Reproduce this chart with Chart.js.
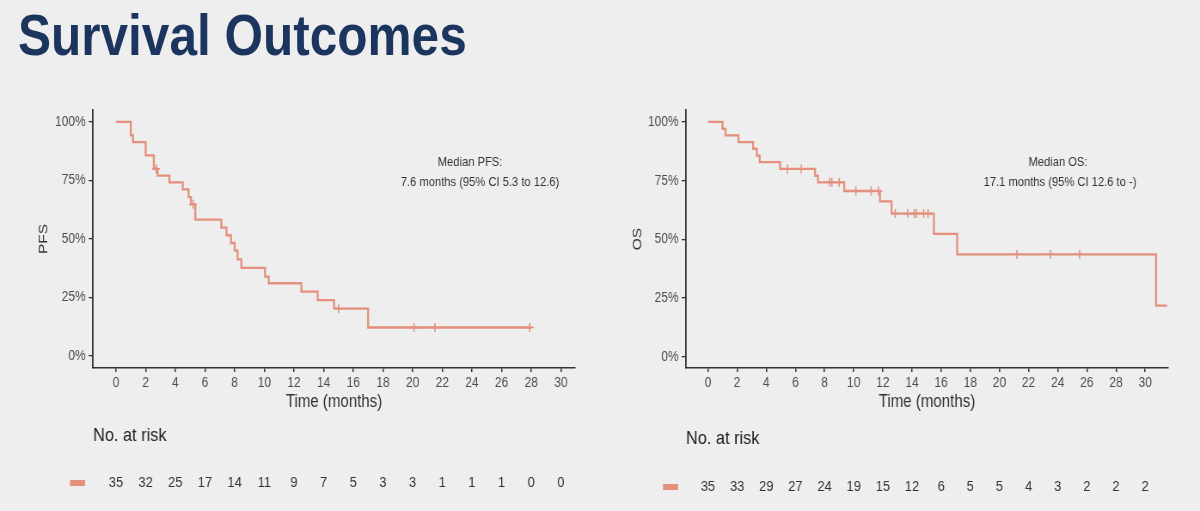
<!DOCTYPE html>
<html><head><meta charset="utf-8">
<script src="https://cdn.jsdelivr.net/npm/chart.js@4.4.0/dist/chart.umd.min.js"></script>
<style>
html,body{margin:0;padding:0;background:#eeeeee;width:1200px;height:511px;overflow:hidden;}
#title{position:absolute;left:18px;top:6px;font-weight:bold;font-size:57.6px;font-family:'Liberation Sans',Arial,sans-serif;line-height:58px;color:#1c355e;white-space:nowrap;transform:scaleX(0.86);transform-origin:0 0;}
canvas{position:absolute;}
</style></head><body>
<div id="title">Survival Outcomes</div>
<canvas id="pfs" width="698" height="421" style="left:0;top:90px;width:600px;height:421px"></canvas>
<canvas id="os" width="698" height="421" style="left:600px;top:90px;width:600px;height:421px"></canvas>
<script>
// ---- data ----
const timeTicks = [0, 2, 4, 6, 8, 10, 12, 14, 16, 18, 20, 22, 24, 26, 28, 30];
const pctTicks = [0, 25, 50, 75, 100];

const pfsTime = [0, 1.0, 1.15, 2.0, 2.55, 2.8, 3.6, 4.5, 4.9, 5.05, 5.35, 7.1, 7.45, 7.75, 8.0, 8.2, 8.45, 10.05, 10.3, 12.5, 13.6, 14.7, 17.0, 28.0];
const pfsSurv = [100, 94.3, 91.4, 85.7, 80.0, 77.1, 74.2, 71.2, 67.9, 64.8, 58.3, 54.9, 51.6, 48.3, 45.0, 41.3, 37.7, 33.9, 31.1, 27.5, 23.9, 20.3, 12.2, 12.2];
const pfsCensorTime = [2.7, 5.2, 15.0, 20.1, 21.5, 27.9];
const pfsCensorSurv = [80.0, 64.8, 20.3, 12.2, 12.2, 12.2];
const pfsAtRisk = [35, 32, 25, 17, 14, 11, 9, 7, 5, 3, 3, 1, 1, 1, 0, 0];
const pfsNote = ['Median PFS:', '7.6 months (95% CI 5.3 to 12.6)'];

const osTime = [0, 1.0, 1.2, 2.1, 3.1, 3.35, 3.55, 4.95, 7.35, 7.55, 9.35, 11.8, 12.6, 15.5, 17.1, 30.75, 31.5];
const osSurv = [100, 97.1, 94.3, 91.4, 88.6, 85.7, 82.9, 80.0, 77.1, 74.3, 70.6, 66.2, 61.0, 52.3, 43.6, 21.8, 21.8];
const osCensorTime = [5.45, 6.4, 8.35, 8.5, 9.0, 10.15, 11.2, 11.7, 12.85, 13.7, 14.15, 14.3, 14.8, 15.1, 21.2, 23.5, 25.5];
const osCensorSurv = [80.0, 80.0, 74.3, 74.3, 74.3, 70.6, 70.6, 70.6, 61.0, 61.0, 61.0, 61.0, 61.0, 61.0, 43.6, 43.6, 43.6];
const osAtRisk = [35, 33, 29, 27, 24, 19, 15, 12, 6, 5, 5, 4, 3, 2, 2, 2];
const osNote = ['Median OS:', '17.1 months (95% CI 12.6 to -)'];

// ---- styling ----
const FONT = "'Liberation Sans',Arial,sans-serif";
const CURVE = '#e3907c';
const AXIS = '#333333';

function riskPlugin(p) {
  return {
    id: 'risk',
    afterDraw(chart) {
      const {ctx, chartArea, scales: {x}} = chart;
      ctx.save();
      ctx.fillStyle = '#333333';
      ctx.textAlign = 'center';
      ctx.textBaseline = 'middle';
      ctx.font = '13px ' + FONT;
      ctx.fillText(p.note[0], p.n1x, p.n1y);
      ctx.fillText(p.note[1], p.n2x, p.n2y);
      ctx.textAlign = 'left';
      ctx.fillStyle = '#222222';
      ctx.font = '19px ' + FONT;
      ctx.fillText('No. at risk', chartArea.left, p.rtY);
      ctx.textAlign = 'center';
      ctx.fillStyle = '#333333';
      ctx.font = '15px ' + FONT;
      p.risk.forEach((n, i) => ctx.fillText(String(n), x.getPixelForValue(timeTicks[i]), p.rY));
      ctx.fillStyle = CURVE;
      ctx.fillRect(p.swX, p.rY - 3, 17.5, 6);
      ctx.restore();
    }
  };
}

function makeChart(id, p) {
  return new Chart(document.getElementById(id), {
    type: 'scatter',
    data: {
      datasets: [
        {
          data: p.time.map((t, i) => ({x: t, y: p.surv[i]})),
          showLine: true, stepped: true, borderColor: CURVE, borderWidth: 2.3,
          pointRadius: 0, fill: false
        },
        {
          data: p.cTime.map((t, i) => ({x: t, y: p.cSurv[i]})),
          showLine: false, pointStyle: 'cross', pointRadius: 4.5,
          borderColor: '#d98a78', borderWidth: 1.4, backgroundColor: '#d98a78'
        }
      ]
    },
    options: {
      responsive: false, animation: false, devicePixelRatio: 1,
      layout: {padding: {left: p.padL, top: 20, right: p.padR, bottom: 98}},
      plugins: {legend: {display: false}, tooltip: {enabled: false}},
      scales: {
        x: {
          type: 'linear', min: p.xMin, max: p.xMax,
          afterBuildTicks: s => { s.ticks = timeTicks.map(v => ({value: v})); },
          afterFit: s => { s.height = 45; },
          grid: {drawOnChartArea: false, drawTicks: true, tickLength: 4, color: AXIS, lineWidth: 1.5},
          border: {display: true, color: AXIS, width: 1.5},
          ticks: {color: '#4d4d4d', font: {family: FONT, size: 14}, padding: 3, maxRotation: 0, autoSkip: false},
          title: {display: true, text: 'Time (months)', color: '#333333', font: {family: FONT, size: 17.5}, padding: {top: 0, bottom: 0}}
        },
        y: {
          type: 'linear', min: p.yMin, max: p.yMax,
          afterBuildTicks: s => { s.ticks = pctTicks.map(v => ({value: v})); },
          afterFit: s => { s.width = p.yW; },
          grid: {drawOnChartArea: false, drawTicks: true, tickLength: 5, color: AXIS, lineWidth: 1.3},
          border: {display: true, color: AXIS, width: 1.8},
          ticks: {color: '#4d4d4d', font: {family: FONT, size: 14}, padding: 3.5, callback: v => v + '%'},
          title: {display: true, text: p.yTitle, color: '#333333', font: {family: FONT, size: 15.5}, padding: {top: 0, bottom: 0}}
        }
      }
    },
    plugins: [riskPlugin(p)]
  });
}

makeChart('pfs', {
  time: pfsTime, surv: pfsSurv, cTime: pfsCensorTime, cSurv: pfsCensorSurv,
  risk: pfsAtRisk, note: pfsNote, yTitle: 'PFS',
  padL: 41, yW: 67.2, padR: 29.1,
  xMin: -1.55, xMax: 30.95, yMin: -5.1, yMax: 105.1,
  n1x: 546.8, n1y: 72, n2x: 558.4, n2y: 92,
  rtY: 346, rY: 393, swX: 81.4
});
makeChart('os', {
  time: osTime, surv: osSurv, cTime: osCensorTime, cSurv: osCensorSurv,
  risk: osAtRisk, note: osNote, yTitle: 'OS',
  padL: 34, yW: 66, padR: 37.2,
  xMin: -1.51, xMax: 31.57, yMin: -4.8, yMax: 105.1,
  n1x: 532.8, n1y: 72, n2x: 535.1, n2y: 92,
  rtY: 349, rY: 397, swX: 73.3
});
</script>
</body></html>
